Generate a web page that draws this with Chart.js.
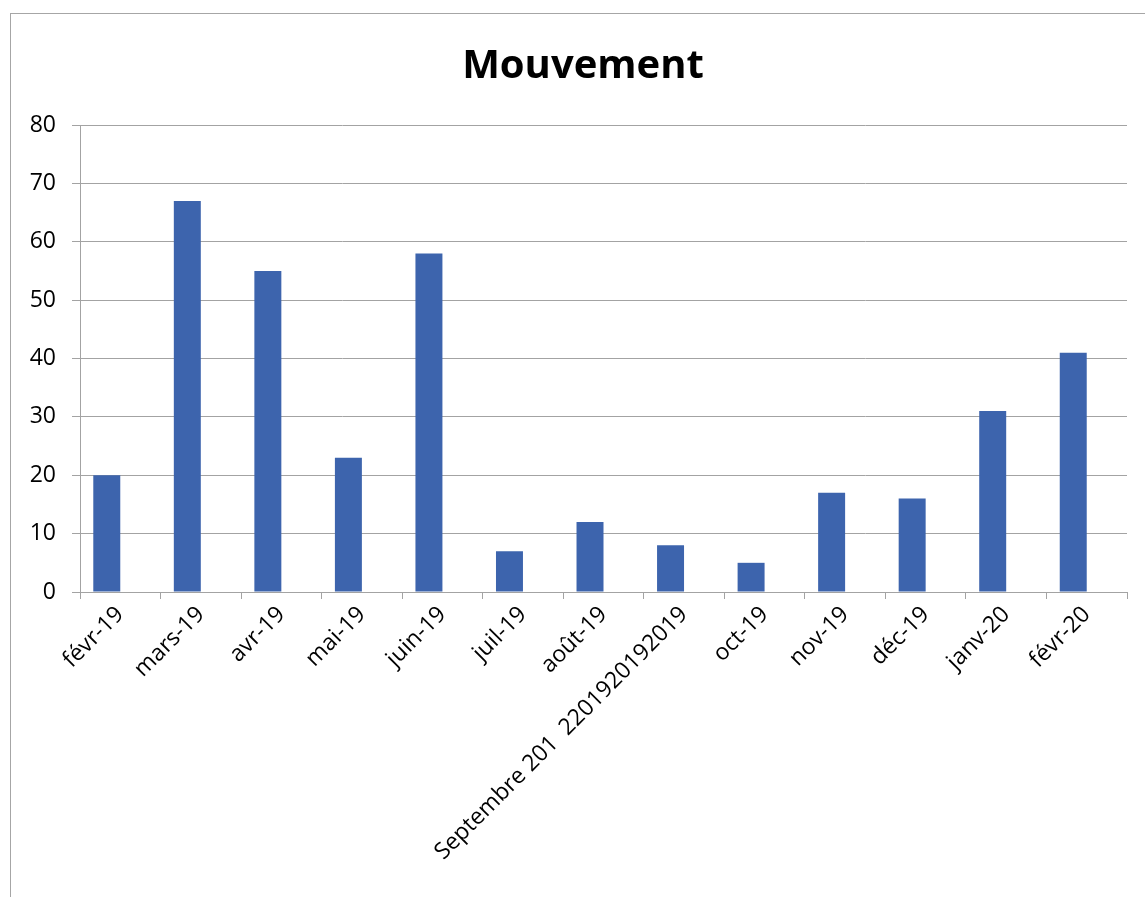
<!DOCTYPE html>
<html>
<head>
<meta charset="utf-8">
<script src="https://cdn.jsdelivr.net/npm/chart.js@4/dist/chart.umd.min.js"></script>
<style>
  html, body { margin: 0; padding: 0; background: #fff; overflow: hidden; }
  #wrap { position: relative; width: 1145px; height: 897px; }
  #frame { position: absolute; left: 10px; top: 13px; width: 1200px; height: 1000px;
           border-left: 1px solid #a6a6a6; border-top: 1px solid #a6a6a6; }
  canvas { position: absolute; left: 0; top: 0; }
</style>
</head>
<body>
<div id="wrap">
  <div id="frame"></div>
  <canvas id="mouvement-chart" width="1145" height="897"></canvas>
</div>
<script>
  const months = ['févr-19', 'mars-19', 'avr-19', 'mai-19', 'juin-19', 'juil-19', 'août-19',
    'Septembre 201  2201920192019', 'oct-19', 'nov-19', 'déc-19', 'janv-20', 'févr-20'];
  const mouvement = [20, 67, 55, 23, 58, 7, 12, 8, 5, 17, 16, 31, 41];
  const yTicks = [0, 10, 20, 30, 40, 50, 60, 70, 80];

  const gridGrey = '#a3a3a3';
  const barBlue = '#3d64ad';
  const tickFont = { family: 'Open Sans', size: 23 };

  const ctx = document.getElementById('mouvement-chart');

  new Chart(ctx, {
    type: 'bar',
    data: {
      labels: months,
      datasets: [
        {
          label: 'Mouvement',
          data: mouvement,
          backgroundColor: barBlue,
          borderWidth: 0,
          barPercentage: 1,
          categoryPercentage: 0.67
        },
        {
          // empty second series, keeps the bars left of the category centre like the original
          label: '',
          data: [],
          backgroundColor: 'rgba(0,0,0,0)',
          barPercentage: 1,
          categoryPercentage: 0.67
        }
      ]
    },
    options: {
      responsive: false,
      animation: false,
      layout: {
        padding: { left: 21, right: 0, top: 0, bottom: 0 }
      },
      scales: {
        y: {
          min: yTicks[0],
          max: yTicks[yTicks.length - 1],
          afterBuildTicks: function (scale) {
            scale.ticks = yTicks.map(v => ({ value: v }));
          },
          afterFit: function (scale) {
            scale.width = 59;
          },
          grid: { color: gridGrey, lineWidth: 1, tickLength: 8 },
          border: { color: gridGrey, width: 1 },
          ticks: { color: '#000', font: tickFont, padding: 16 }
        },
        x: {
          afterFit: function (scale) {
            scale.height = 305;
            scale.paddingRight = 18;
          },
          grid: { offset: true, drawOnChartArea: false, color: gridGrey, tickLength: 7 },
          border: { color: gridGrey, width: 1 },
          ticks: { color: '#000', font: tickFont, minRotation: 45, maxRotation: 45, autoSkip: false, padding: 2 }
        }
      },
      plugins: {
        legend: { display: false },
        tooltip: { enabled: false },
        title: {
          display: true,
          text: 'Mouvement',
          color: '#000',
          font: { family: 'Open Sans', size: 40, weight: 'bold' },
          padding: { top: 43, bottom: 34 }
        }
      }
    }
  });
</script>
</body>
</html>
